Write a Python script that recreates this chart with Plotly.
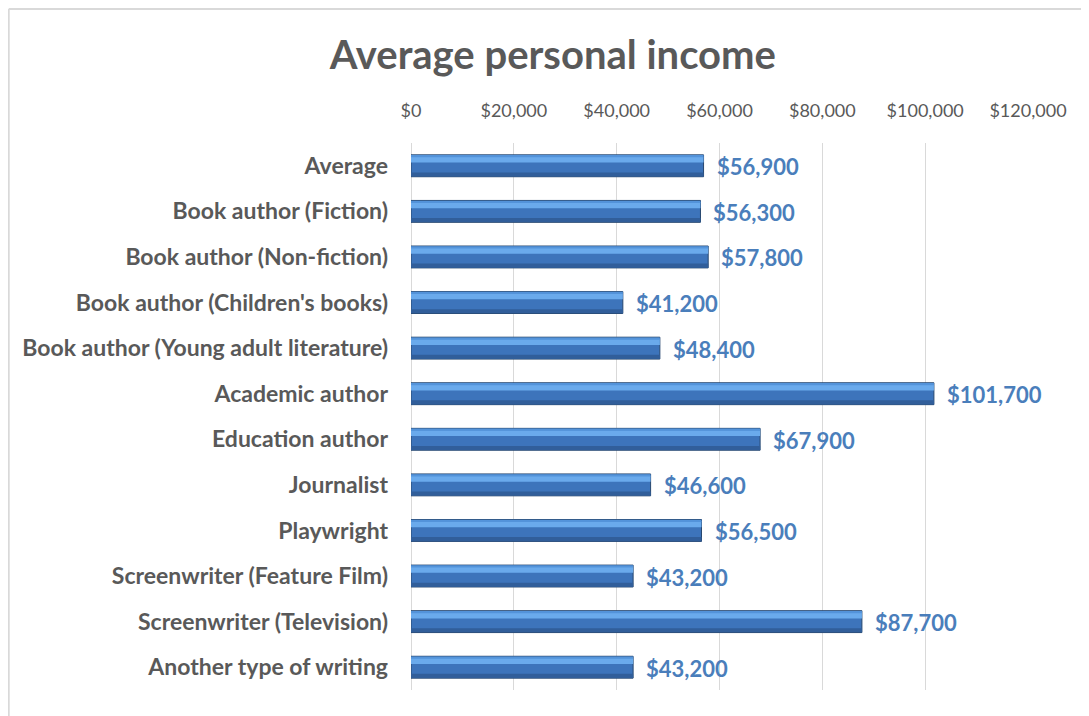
import plotly.graph_objects as go

# data
categories = [
    "Average",
    "Book author (Fiction)",
    "Book author (Non-fiction)",
    "Book author (Children's books)",
    "Book author (Young adult literature)",
    "Academic author",
    "Education author",
    "Journalist",
    "Playwright",
    "Screenwriter (Feature Film)",
    "Screenwriter (Television)",
    "Another type of writing",
]
income = [56900, 56300, 57800, 41200, 48400, 101700, 67900, 46600, 56500, 43200, 87700, 43200]
tick_values = [0, 20000, 40000, 60000, 80000, 100000, 120000]
tick_labels = [f"${v:,}" for v in tick_values]

grey = "#595959"
label_blue = "#4A7EBB"
font_family = "Lato, Open Sans, sans-serif"

fig = go.Figure()

# main bar body
fig.add_trace(go.Bar(
    x=income, y=categories, orientation="h", width=0.48,
    marker=dict(color="#3D74BB", line=dict(color="#27476F", width=1)),
    hoverinfo="x+y", showlegend=False,
))
# lighter / darker stripes to mimic the bevelled look
fig.add_trace(go.Bar(
    x=income, y=categories, orientation="h", width=0.13, offset=-0.2,
    marker=dict(color="#6AAAEC", line=dict(width=0)),
    hoverinfo="skip", showlegend=False,
))
fig.add_trace(go.Bar(
    x=income, y=categories, orientation="h", width=0.05, offset=-0.235,
    marker=dict(color="#5393DA", line=dict(width=0)),
    hoverinfo="skip", showlegend=False,
))
fig.add_trace(go.Bar(
    x=income, y=categories, orientation="h", width=0.09, offset=0.145,
    marker=dict(color="#315E9A", line=dict(width=0)),
    hoverinfo="skip", showlegend=False,
))

# value labels
for cat, val in zip(categories, income):
    fig.add_annotation(
        x=val, y=cat, text=f"<b>${val:,}</b>", showarrow=False,
        xanchor="left", xshift=11, yshift=-1,
        font=dict(family=font_family, size=22, color=label_blue),
    )

# light frame around chart area (left and top edges)
fig.add_shape(type="line", xref="paper", yref="paper", x0=-0.652, x1=1.2, y0=1.245, y1=1.245,
              line=dict(color="#D9D9D9", width=2))
fig.add_shape(type="line", xref="paper", yref="paper", x0=-0.652, x1=-0.652, y0=1.245, y1=-0.2,
              line=dict(color="#D9D9D9", width=2))

# page body has an 8px margin, so the figure is a bit smaller than the window
fig.update_layout(
    barmode="overlay",
    width=1081, height=708,
    margin=dict(l=403, r=61, t=135, b=26),
    paper_bgcolor="white", plot_bgcolor="white",
    font=dict(family=font_family, color=grey),
    title=dict(
        text="<b>Average personal income</b>",
        x=0.504, xanchor="center", y=0.934, yanchor="middle",
        font=dict(size=40, color=grey, family=font_family),
    ),
    xaxis=dict(
        side="top", range=[0, 120000], tickvals=tick_values, ticktext=tick_labels,
        tickfont=dict(size=18, color=grey),
        showgrid=True, gridcolor="#D9D9D9", gridwidth=1,
        zeroline=True, zerolinecolor="#D9D9D9", zerolinewidth=1,
        showline=False, ticks="", ticklabelstandoff=21, fixedrange=True,
    ),
    yaxis=dict(
        autorange="reversed", categoryorder="array", categoryarray=categories,
        tickvals=categories, ticktext=[f"<b>{c}</b>" for c in categories],
        tickfont=dict(size=23, color=grey), ticks="",
        showgrid=False, showline=False, ticklabelstandoff=22,
    ),
)

fig.write_html("out.html")
